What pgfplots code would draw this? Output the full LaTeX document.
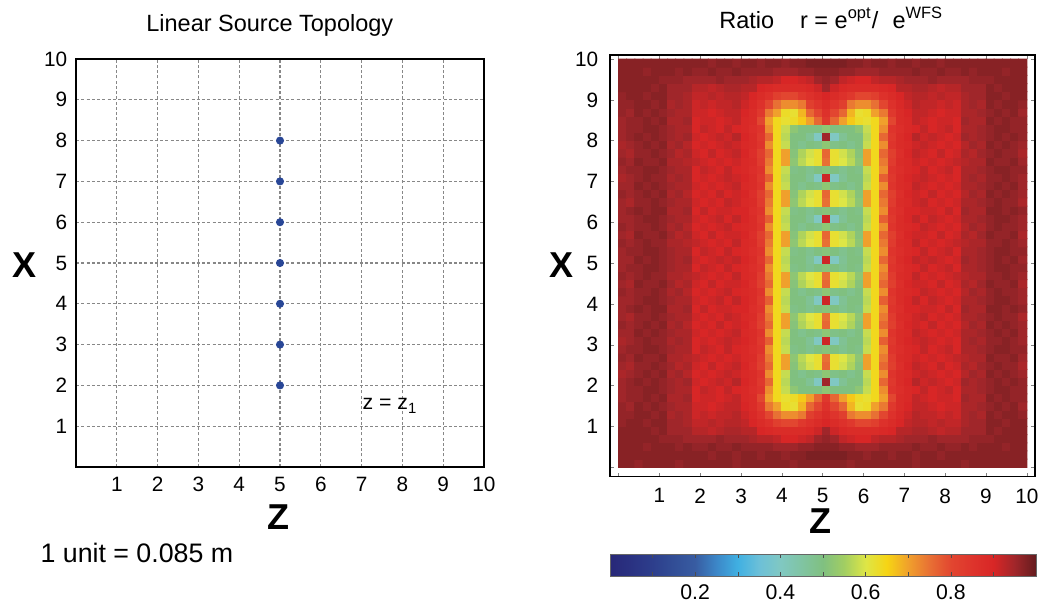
\documentclass[border=0pt]{standalone}
\usepackage{fontspec}
\setmainfont{Liberation Sans}
\usepackage{pgfplots}
\pgfplotsset{compat=1.18}
\definecolor{srcblue}{RGB}{40,70,150}
\definecolor{gridgray}{RGB}{135,135,135}

\pgfplotsset{
  ratiomap/.style={colormap={ratio}{
    rgb255(0cm)=(40,40,120) rgb255(1cm)=(42,50,130) rgb255(2cm)=(45,62,140)
    rgb255(3cm)=(50,78,150) rgb255(4cm)=(56,92,162) rgb255(5cm)=(60,135,200)
    rgb255(6cm)=(64,176,226) rgb255(7cm)=(108,192,216) rgb255(8cm)=(128,200,194)
    rgb255(9cm)=(128,196,162) rgb255(10cm)=(128,192,128) rgb255(11cm)=(162,206,98)
    rgb255(12cm)=(222,230,70) rgb255(13cm)=(246,212,20) rgb255(14cm)=(240,160,44)
    rgb255(15cm)=(232,112,52) rgb255(16cm)=(226,70,48) rgb255(17cm)=(222,52,44)
    rgb255(18cm)=(216,38,38) rgb255(19cm)=(160,38,42) rgb255(20cm)=(100,28,30)}},
  /pgf/number format/assume math mode=true,
  every axis title shift=0pt,
}

\begin{document}
\begin{tikzpicture}
\path[use as bounding box] (0pt,0pt) rectangle (418pt,-242.8pt);

% left: source positions
\begin{axis}[
  at={(30.4pt,-186.8pt)}, anchor=south west,
  scale only axis, width=163.2pt, height=163.2pt,
  xmin=0, xmax=10, ymin=0, ymax=10,
  xtick={1,...,10}, ytick={1,...,10},
  major tick length=0pt,
  grid=major,
  grid style={gridgray, dash pattern=on 1.2pt off 0.9pt, line width=0.45pt},
  axis line style={line width=0.8pt},
  tick label style={font=\fontsize{8.3}{10}\selectfont},
  xticklabel style={yshift=-0.6pt},
  clip=false,
  title={Linear Source Topology},
  title style={font=\fontsize{9.4}{11}\selectfont, at={(axis description cs:0.475,1.0686)}, anchor=base, yshift=0pt},
  xlabel={Z}, ylabel={X},
  label style={font=\fontsize{14.4}{16}\selectfont\bfseries},
  xlabel style={at={(axis description cs:0.4975,-0.1225)}, anchor=center},
  ylabel style={rotate=-90, at={(axis description cs:-0.125,0.495)}, anchor=center},
]
\addplot[only marks, mark=*, mark size=1.4pt, color=srcblue]
  coordinates {(5,2)(5,3)(5,4)(5,5)(5,6)(5,7)(5,8)};
\node[font=\fontsize{8.5}{10}\selectfont] at (axis cs:7.7,1.5) {z = z\textsubscript{1}};
\node[anchor=base west, inner sep=0pt, font=\fontsize{10.7}{12}\selectfont] at (rel axis cs:-0.088,-0.235) {1 unit = 0.085 m};
\end{axis}

% right: ratio map
\begin{axis}[
  at={(244pt,-190.68pt)}, anchor=south west,
  scale only axis, width=170pt, height=168.68pt,
  xmin=-0.21, xmax=10.2, ymin=-0.23, ymax=10.1,
  xtick={0,...,10}, ytick={0,...,10},
  xticklabels={,1,2,3,4,5,6,7,8,9,10},
  yticklabels={,1,2,3,4,5,6,7,8,9,10},
  tick align=inside, major tick length=1.6pt,
  axis line style={line width=0.6pt},
  tick label style={font=\fontsize{8.3}{10}\selectfont},
  xticklabel style={yshift=-1.2pt},
  yticklabel style={xshift=-1.2pt},
  title={Ratio\hspace{1.1em}r = e\textsuperscript{opt}/\hspace{0.6em}e\textsuperscript{WFS}},
  title style={font=\fontsize{9.4}{11}\selectfont, at={(axis description cs:0.521,1.0628)}, anchor=base, yshift=0pt},
  xlabel={Z}, ylabel={X},
  label style={font=\fontsize{14.4}{16}\selectfont\bfseries},
  xlabel style={at={(axis description cs:0.496,-0.105)}, anchor=center},
  ylabel style={rotate=-90, at={(axis description cs:-0.115,0.502)}, anchor=center},
  ratiomap,
  point meta min=0, point meta max=100,
  colorbar horizontal,
  colorbar style={
    at={(parent axis.south west)}, anchor=north west, yshift=-22.5pt,
    scale only axis, width=170.4pt, height=8.8pt,
    xtick={10,20,...,90},
    xticklabels={,0.2,,0.4,,0.6,,0.8,},
    tick align=inside, major tick length=1.6pt,
    xtick pos=both, xticklabel pos=left,
    tick style={black!70},
    ticklabel style={font=\fontsize{8.5}{10}\selectfont},
    axis line style={black!60, line width=0.4pt},
  },
]
% values are r x 100, one line per row of cells (bottom row first), 50 cells per row, z from 0.1 to 9.9
\addplot[matrix plot*, mesh/cols=50, point meta=explicit]
  table[header=false, row sep=\\, meta index=0,
        x expr={0.1+0.2*mod(\coordindex,50)},
        y expr={0.1+0.2*floor((\coordindex+0.5)/50)}] {
97\\97\\96\\97\\97\\97\\97\\96\\97\\97\\97\\97\\97\\97\\96\\97\\97\\97\\97\\97\\97\\96\\97\\97\\97\\97\\97\\97\\96\\97\\97\\97\\97\\97\\97\\97\\96\\97\\97\\97\\97\\97\\96\\97\\97\\97\\97\\97\\97\\97\\
97\\97\\97\\97\\97\\97\\97\\97\\97\\97\\97\\96\\97\\97\\96\\97\\97\\96\\97\\97\\96\\97\\97\\98\\98\\98\\98\\98\\97\\97\\96\\97\\97\\96\\97\\97\\96\\97\\97\\96\\97\\97\\97\\97\\97\\97\\97\\97\\97\\97\\
97\\97\\97\\96\\97\\97\\97\\96\\97\\96\\96\\97\\96\\96\\97\\96\\96\\96\\96\\95\\95\\95\\96\\96\\97\\97\\97\\96\\96\\95\\95\\95\\96\\96\\96\\96\\97\\96\\96\\97\\96\\96\\97\\96\\97\\97\\97\\96\\97\\97\\
97\\97\\97\\97\\97\\96\\96\\96\\95\\95\\95\\95\\96\\95\\95\\95\\94\\93\\93\\92\\90\\90\\91\\92\\95\\96\\95\\92\\91\\90\\90\\92\\93\\93\\94\\95\\95\\95\\96\\95\\95\\95\\95\\96\\96\\96\\97\\97\\97\\97\\
97\\97\\97\\97\\96\\97\\95\\95\\95\\93\\93\\92\\93\\94\\94\\93\\93\\90\\89\\88\\88\\88\\88\\89\\91\\95\\91\\89\\88\\88\\88\\88\\89\\90\\93\\93\\94\\94\\93\\92\\93\\93\\95\\95\\95\\97\\96\\97\\97\\97\\
96\\97\\97\\96\\97\\97\\95\\95\\94\\92\\92\\93\\92\\93\\93\\92\\90\\88\\86\\82\\80\\80\\84\\86\\88\\90\\88\\86\\84\\80\\80\\82\\86\\88\\90\\92\\93\\93\\92\\93\\92\\92\\94\\95\\95\\97\\97\\96\\97\\97\\
96\\96\\97\\97\\96\\97\\94\\95\\94\\91\\92\\91\\92\\92\\93\\91\\89\\86\\80\\75\\72\\72\\74\\82\\85\\88\\85\\82\\74\\72\\72\\75\\80\\86\\89\\91\\93\\92\\92\\91\\92\\91\\94\\95\\94\\97\\96\\97\\97\\96\\
96\\95\\97\\96\\97\\96\\95\\94\\94\\91\\91\\90\\91\\92\\92\\90\\88\\84\\74\\70\\63\\62\\68\\76\\80\\86\\80\\76\\68\\62\\63\\70\\74\\84\\88\\90\\92\\92\\91\\90\\91\\91\\94\\94\\95\\96\\97\\96\\97\\95\\
95\\96\\96\\97\\96\\97\\94\\94\\95\\90\\91\\91\\90\\91\\92\\89\\88\\80\\70\\64\\62\\63\\66\\70\\76\\84\\76\\70\\66\\63\\62\\64\\70\\80\\88\\89\\92\\91\\90\\91\\91\\90\\95\\94\\94\\97\\96\\97\\96\\96\\
95\\96\\96\\97\\97\\96\\95\\94\\94\\90\\92\\91\\90\\92\\90\\89\\87\\85\\72\\64\\58\\52\\50\\50\\50\\52\\50\\50\\50\\52\\58\\64\\72\\85\\87\\89\\90\\92\\90\\91\\92\\90\\94\\94\\95\\96\\97\\97\\96\\96\\
95\\96\\97\\96\\97\\96\\95\\94\\95\\91\\90\\91\\92\\91\\93\\90\\88\\84\\76\\64\\57\\50\\50\\47\\40\\95\\40\\47\\50\\50\\57\\64\\76\\84\\88\\90\\93\\91\\92\\91\\90\\91\\95\\94\\95\\96\\97\\96\\97\\96\\
94\\95\\96\\97\\96\\97\\94\\95\\93\\90\\91\\90\\91\\92\\91\\89\\88\\85\\72\\64\\58\\50\\48\\50\\49\\52\\49\\50\\48\\50\\58\\64\\72\\85\\88\\89\\91\\92\\91\\90\\91\\90\\93\\95\\94\\97\\96\\97\\96\\95\\
95\\94\\96\\96\\97\\96\\95\\93\\94\\91\\90\\92\\90\\91\\92\\90\\87\\82\\76\\64\\70\\51\\56\\59\\62\\76\\62\\59\\56\\51\\70\\64\\76\\82\\87\\90\\92\\91\\90\\92\\90\\91\\94\\93\\95\\96\\97\\96\\96\\94\\
96\\95\\97\\96\\96\\97\\94\\94\\93\\92\\91\\90\\91\\90\\91\\89\\88\\83\\74\\64\\70\\52\\57\\60\\62\\75\\62\\60\\57\\52\\70\\64\\74\\83\\88\\89\\91\\90\\91\\90\\91\\92\\93\\94\\94\\97\\96\\96\\97\\95\\
95\\96\\96\\97\\97\\96\\95\\94\\94\\90\\92\\91\\90\\92\\90\\89\\87\\85\\72\\64\\58\\49\\50\\48\\50\\51\\50\\48\\50\\49\\58\\64\\72\\85\\87\\89\\90\\92\\90\\91\\92\\90\\94\\94\\95\\96\\97\\97\\96\\96\\
94\\95\\96\\97\\96\\96\\94\\95\\94\\90\\91\\90\\91\\92\\91\\90\\88\\84\\77\\64\\57\\50\\50\\47\\40\\91\\40\\47\\50\\50\\57\\64\\77\\84\\88\\90\\91\\92\\91\\90\\91\\90\\94\\95\\94\\96\\96\\97\\96\\95\\
95\\95\\97\\96\\97\\96\\95\\94\\94\\91\\90\\91\\90\\91\\92\\89\\88\\85\\72\\64\\58\\50\\48\\50\\49\\52\\49\\50\\48\\50\\58\\64\\72\\85\\88\\89\\92\\91\\90\\91\\90\\91\\94\\94\\95\\96\\97\\96\\97\\95\\
96\\95\\96\\97\\96\\97\\94\\95\\93\\90\\91\\90\\92\\90\\91\\90\\87\\82\\76\\64\\70\\51\\56\\59\\62\\76\\62\\59\\56\\51\\70\\64\\76\\82\\87\\90\\91\\90\\92\\90\\91\\90\\93\\95\\94\\97\\96\\97\\96\\95\\
95\\94\\96\\96\\97\\96\\95\\94\\94\\91\\90\\91\\90\\92\\91\\89\\88\\83\\74\\64\\70\\52\\57\\60\\62\\75\\62\\60\\57\\52\\70\\64\\74\\83\\88\\89\\91\\92\\90\\91\\90\\91\\94\\94\\95\\96\\97\\96\\96\\94\\
95\\96\\97\\96\\97\\97\\94\\94\\95\\90\\92\\90\\91\\91\\90\\90\\87\\85\\72\\64\\58\\49\\50\\48\\50\\51\\50\\48\\50\\49\\58\\64\\72\\85\\87\\90\\90\\91\\91\\90\\92\\90\\95\\94\\94\\97\\97\\96\\97\\96\\
95\\95\\96\\97\\97\\96\\95\\94\\94\\91\\90\\91\\92\\90\\92\\90\\88\\84\\77\\64\\57\\50\\50\\47\\40\\91\\40\\47\\50\\50\\57\\64\\77\\84\\88\\90\\92\\90\\92\\91\\90\\91\\94\\94\\95\\96\\97\\97\\96\\95\\
96\\95\\96\\96\\97\\96\\94\\95\\93\\90\\91\\90\\91\\92\\90\\89\\88\\85\\72\\64\\58\\50\\48\\50\\49\\52\\49\\50\\48\\50\\58\\64\\72\\85\\88\\89\\90\\92\\91\\90\\91\\90\\93\\95\\94\\96\\97\\96\\96\\95\\
95\\94\\97\\96\\96\\97\\95\\93\\94\\91\\90\\92\\90\\91\\91\\90\\87\\82\\76\\64\\70\\51\\56\\59\\62\\76\\62\\59\\56\\51\\70\\64\\76\\82\\87\\90\\91\\91\\90\\92\\90\\91\\94\\93\\95\\97\\96\\96\\97\\94\\
96\\95\\96\\97\\96\\96\\94\\94\\93\\92\\91\\90\\91\\90\\92\\89\\88\\83\\74\\64\\70\\52\\57\\60\\62\\75\\62\\60\\57\\52\\70\\64\\74\\83\\88\\89\\92\\90\\91\\90\\91\\92\\93\\94\\94\\96\\96\\97\\96\\95\\
95\\96\\96\\97\\97\\96\\95\\94\\94\\90\\92\\91\\90\\92\\90\\89\\87\\85\\72\\64\\58\\49\\50\\48\\50\\51\\50\\48\\50\\49\\58\\64\\72\\85\\87\\89\\90\\92\\90\\91\\92\\90\\94\\94\\95\\96\\97\\97\\96\\96\\
95\\95\\97\\96\\97\\96\\95\\94\\95\\91\\90\\91\\92\\91\\92\\90\\88\\84\\76\\64\\57\\50\\50\\47\\40\\91\\40\\47\\50\\50\\57\\64\\76\\84\\88\\90\\92\\91\\92\\91\\90\\91\\95\\94\\95\\96\\97\\96\\97\\95\\
95\\96\\96\\97\\97\\96\\95\\94\\94\\90\\92\\91\\90\\92\\90\\89\\87\\85\\72\\64\\58\\49\\50\\48\\50\\51\\50\\48\\50\\49\\58\\64\\72\\85\\87\\89\\90\\92\\90\\91\\92\\90\\94\\94\\95\\96\\97\\97\\96\\96\\
96\\95\\96\\97\\96\\96\\94\\94\\93\\92\\91\\90\\91\\90\\92\\89\\88\\83\\74\\64\\70\\52\\57\\60\\62\\75\\62\\60\\57\\52\\70\\64\\74\\83\\88\\89\\92\\90\\91\\90\\91\\92\\93\\94\\94\\96\\96\\97\\96\\95\\
95\\94\\97\\96\\96\\97\\95\\93\\94\\91\\90\\92\\90\\91\\91\\90\\87\\82\\76\\64\\70\\51\\56\\59\\62\\76\\62\\59\\56\\51\\70\\64\\76\\82\\87\\90\\91\\91\\90\\92\\90\\91\\94\\93\\95\\97\\96\\96\\97\\94\\
96\\95\\96\\96\\97\\96\\94\\95\\93\\90\\91\\90\\91\\92\\90\\89\\88\\85\\72\\64\\58\\50\\48\\50\\49\\52\\49\\50\\48\\50\\58\\64\\72\\85\\88\\89\\90\\92\\91\\90\\91\\90\\93\\95\\94\\96\\97\\96\\96\\95\\
95\\95\\96\\97\\97\\96\\95\\94\\94\\91\\90\\91\\92\\90\\92\\90\\88\\84\\77\\64\\57\\50\\50\\47\\40\\91\\40\\47\\50\\50\\57\\64\\77\\84\\88\\90\\92\\90\\92\\91\\90\\91\\94\\94\\95\\96\\97\\97\\96\\95\\
95\\96\\97\\96\\97\\97\\94\\94\\95\\90\\92\\90\\91\\91\\90\\90\\87\\85\\72\\64\\58\\49\\50\\48\\50\\51\\50\\48\\50\\49\\58\\64\\72\\85\\87\\90\\90\\91\\91\\90\\92\\90\\95\\94\\94\\97\\97\\96\\97\\96\\
95\\94\\96\\96\\97\\96\\95\\94\\94\\91\\90\\91\\90\\92\\91\\89\\88\\83\\74\\64\\70\\52\\57\\60\\62\\75\\62\\60\\57\\52\\70\\64\\74\\83\\88\\89\\91\\92\\90\\91\\90\\91\\94\\94\\95\\96\\97\\96\\96\\94\\
96\\95\\96\\97\\96\\97\\94\\95\\93\\90\\91\\90\\92\\90\\91\\90\\87\\82\\76\\64\\70\\51\\56\\59\\62\\76\\62\\59\\56\\51\\70\\64\\76\\82\\87\\90\\91\\90\\92\\90\\91\\90\\93\\95\\94\\97\\96\\97\\96\\95\\
95\\95\\97\\96\\97\\96\\95\\94\\94\\91\\90\\91\\90\\91\\92\\89\\88\\85\\72\\64\\58\\50\\48\\50\\49\\52\\49\\50\\48\\50\\58\\64\\72\\85\\88\\89\\92\\91\\90\\91\\90\\91\\94\\94\\95\\96\\97\\96\\97\\95\\
94\\95\\96\\97\\96\\96\\94\\95\\94\\90\\91\\90\\91\\92\\91\\90\\88\\84\\77\\64\\57\\50\\50\\47\\40\\91\\40\\47\\50\\50\\57\\64\\77\\84\\88\\90\\91\\92\\91\\90\\91\\90\\94\\95\\94\\96\\96\\97\\96\\95\\
95\\96\\96\\97\\97\\96\\95\\94\\94\\90\\92\\91\\90\\92\\90\\89\\87\\85\\72\\64\\58\\49\\50\\48\\50\\51\\50\\48\\50\\49\\58\\64\\72\\85\\87\\89\\90\\92\\90\\91\\92\\90\\94\\94\\95\\96\\97\\97\\96\\96\\
96\\95\\97\\96\\96\\97\\94\\94\\93\\92\\91\\90\\91\\90\\91\\89\\88\\83\\74\\64\\70\\52\\57\\60\\62\\75\\62\\60\\57\\52\\70\\64\\74\\83\\88\\89\\91\\90\\91\\90\\91\\92\\93\\94\\94\\97\\96\\96\\97\\95\\
95\\94\\96\\96\\97\\96\\95\\93\\94\\91\\90\\92\\90\\91\\92\\90\\87\\82\\76\\64\\70\\51\\56\\59\\62\\76\\62\\59\\56\\51\\70\\64\\76\\82\\87\\90\\92\\91\\90\\92\\90\\91\\94\\93\\95\\96\\97\\96\\96\\94\\
94\\95\\96\\97\\96\\97\\94\\95\\93\\90\\91\\90\\91\\92\\91\\89\\88\\85\\72\\64\\58\\50\\48\\50\\49\\52\\49\\50\\48\\50\\58\\64\\72\\85\\88\\89\\91\\92\\91\\90\\91\\90\\93\\95\\94\\97\\96\\97\\96\\95\\
95\\96\\97\\96\\97\\96\\95\\94\\95\\91\\90\\91\\92\\91\\93\\90\\88\\84\\76\\64\\57\\50\\50\\47\\40\\95\\40\\47\\50\\50\\57\\64\\76\\84\\88\\90\\93\\91\\92\\91\\90\\91\\95\\94\\95\\96\\97\\96\\97\\96\\
95\\96\\96\\97\\97\\96\\95\\94\\94\\90\\92\\91\\90\\92\\90\\89\\87\\85\\72\\64\\58\\52\\50\\50\\50\\52\\50\\50\\50\\52\\58\\64\\72\\85\\87\\89\\90\\92\\90\\91\\92\\90\\94\\94\\95\\96\\97\\97\\96\\96\\
95\\96\\96\\97\\96\\97\\94\\94\\95\\90\\91\\91\\90\\91\\92\\89\\88\\80\\70\\64\\62\\63\\66\\70\\76\\84\\76\\70\\66\\63\\62\\64\\70\\80\\88\\89\\92\\91\\90\\91\\91\\90\\95\\94\\94\\97\\96\\97\\96\\96\\
96\\95\\97\\96\\97\\96\\95\\94\\94\\91\\91\\90\\91\\92\\92\\90\\88\\84\\74\\70\\63\\62\\68\\76\\80\\86\\80\\76\\68\\62\\63\\70\\74\\84\\88\\90\\92\\92\\91\\90\\91\\91\\94\\94\\95\\96\\97\\96\\97\\95\\
96\\96\\97\\97\\96\\97\\94\\95\\94\\91\\92\\91\\92\\92\\93\\91\\89\\86\\80\\75\\72\\72\\74\\82\\85\\88\\85\\82\\74\\72\\72\\75\\80\\86\\89\\91\\93\\92\\92\\91\\92\\91\\94\\95\\94\\97\\96\\97\\97\\96\\
96\\97\\97\\96\\97\\97\\95\\95\\94\\92\\92\\93\\92\\93\\93\\92\\90\\88\\86\\82\\80\\80\\84\\86\\88\\90\\88\\86\\84\\80\\80\\82\\86\\88\\90\\92\\93\\93\\92\\93\\92\\92\\94\\95\\95\\97\\97\\96\\97\\97\\
97\\97\\97\\97\\96\\97\\95\\95\\95\\93\\93\\92\\93\\94\\94\\93\\93\\90\\89\\88\\88\\88\\88\\89\\91\\95\\91\\89\\88\\88\\88\\88\\89\\90\\93\\93\\94\\94\\93\\92\\93\\93\\95\\95\\95\\97\\96\\97\\97\\97\\
97\\97\\97\\97\\97\\96\\96\\96\\95\\95\\95\\95\\96\\95\\95\\95\\94\\93\\93\\92\\90\\90\\91\\92\\95\\96\\95\\92\\91\\90\\90\\92\\93\\93\\94\\95\\95\\95\\96\\95\\95\\95\\95\\96\\96\\96\\97\\97\\97\\97\\
97\\97\\97\\96\\97\\97\\97\\96\\97\\96\\96\\97\\96\\96\\97\\96\\96\\96\\96\\95\\95\\95\\96\\96\\97\\97\\97\\96\\96\\95\\95\\95\\96\\96\\96\\96\\97\\96\\96\\97\\96\\96\\97\\96\\97\\97\\97\\96\\97\\97\\
97\\97\\97\\97\\97\\97\\97\\97\\97\\97\\97\\96\\97\\97\\96\\97\\97\\96\\97\\97\\96\\97\\97\\98\\98\\98\\98\\98\\97\\97\\96\\97\\97\\96\\97\\97\\96\\97\\97\\96\\97\\97\\97\\97\\97\\97\\97\\97\\97\\97\\
};
\end{axis}
\end{tikzpicture}
\end{document}
